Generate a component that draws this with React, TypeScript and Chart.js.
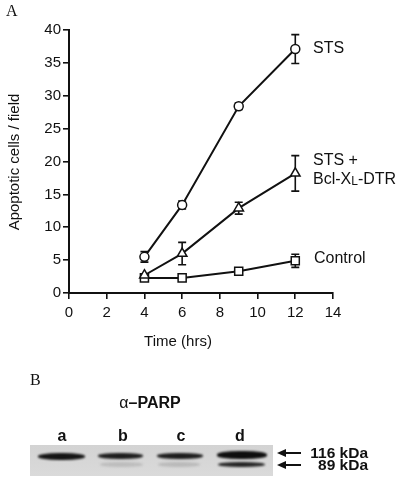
import React, { useEffect, useRef } from "react";
import { Chart, registerables } from "chart.js";

Chart.register(...registerables);

const times = [4, 6, 9, 12];
const stsValues = [5.5, 13.4, 28.4, 37.1];
const stsErrors = [0.8, 0.6, 0.5, 2.2];
const bclValues = [2.7, 6.0, 12.9, 18.2];
const bclErrors = [0.2, 1.7, 0.9, 2.7];
const controlValues = [2.3, 2.3, 3.3, 4.9];
const controlErrors = [0.2, 0.2, 0.3, 1.0];
const xTicks = [0, 2, 4, 6, 8, 10, 12, 14];
const yTicks = [0, 5, 10, 15, 20, 25, 30, 35, 40];
const laneLabels = ["a", "b", "c", "d"];
const markerLabels = ["116 kDa", "89 kDa"];

const FONT = "'Liberation Sans', Arial, Helvetica, sans-serif";

const errorBarPlugin = {
  id: "errorBars",
  beforeDatasetsDraw(chart: any) {
    const ctx = chart.ctx;
    const xs = chart.scales.x;
    const ys = chart.scales.y;
    const errs = [stsErrors, bclErrors, controlErrors];
    ctx.save();
    ctx.strokeStyle = "#111";
    ctx.lineWidth = 1.6;
    chart.data.datasets.forEach((ds: any, i: number) => {
      ds.data.forEach((p: any, j: number) => {
        const e = errs[i][j];
        const x = xs.getPixelForValue(p.x);
        const y1 = ys.getPixelForValue(p.y + e);
        const y2 = ys.getPixelForValue(p.y - e);
        ctx.beginPath();
        ctx.moveTo(x, y1);
        ctx.lineTo(x, y2);
        ctx.moveTo(x - 4, y1);
        ctx.lineTo(x + 4, y1);
        ctx.moveTo(x - 4, y2);
        ctx.lineTo(x + 4, y2);
        ctx.stroke();
      });
    });
    ctx.restore();
  },
  afterDraw(chart: any) {
    const ctx = chart.ctx;
    ctx.save();
    ctx.fillStyle = "#111";
    ctx.textBaseline = "middle";
    ctx.textAlign = "left";
    ctx.font = `16px ${FONT}`;
    ctx.fillText("STS", 313, 49);
    ctx.fillText("STS +", 313, 161);
    let x = 313;
    ctx.fillText("Bcl-X", x, 180);
    x += ctx.measureText("Bcl-X").width;
    ctx.font = `12px ${FONT}`;
    ctx.fillText("L", x, 181.5);
    x += ctx.measureText("L").width;
    ctx.font = `16px ${FONT}`;
    ctx.fillText("-DTR", x, 180);
    ctx.fillText("Control", 314, 259);
    ctx.font = `15px ${FONT}`;
    ctx.textAlign = "center";
    ctx.fillText("Time (hrs)", 178, 342);
    ctx.save();
    ctx.translate(15, 162);
    ctx.rotate(-Math.PI / 2);
    ctx.fillText("Apoptotic cells / field", 0, 0);
    ctx.restore();
    ctx.font = `16px 'Liberation Serif', 'Times New Roman', serif`;
    ctx.textAlign = "left";
    ctx.fillText("A", 6, 12);
    ctx.fillText("B", 30, 381);
    ctx.restore();
  },
};

function toPoints(vals: number[]) {
  return times.map((t, i) => ({ x: t, y: vals[i] }));
}

export default function App() {
  const ref = useRef<HTMLCanvasElement>(null);
  useEffect(() => {
    const mk = (data: number[], style: string, r: number) => ({
      data: toPoints(data),
      borderColor: "#111",
      borderWidth: 2,
      pointStyle: style,
      pointRadius: r,
      pointBackgroundColor: "#fff",
      pointBorderColor: "#111",
      pointBorderWidth: 1.5,
      showLine: true,
      tension: 0,
    });
    const chart = new Chart(ref.current as HTMLCanvasElement, {
      type: "scatter",
      data: {
        datasets: [
          mk(stsValues, "circle", 4.5),
          mk(bclValues, "triangle", 5.5),
          mk(controlValues, "rect", 5.7),
        ] as any,
      },
      options: {
        animation: false,
        responsive: false,
        devicePixelRatio: 1,
        layout: { padding: { left: 0, top: 30, right: 67, bottom: 150 } },
        plugins: { legend: { display: false }, tooltip: { enabled: false } },
        scales: {
          x: {
            type: "linear",
            min: 0,
            max: 14,
            afterFit: (s: any) => {
              s.height = 40;
            },
            afterBuildTicks: (s: any) => {
              s.ticks = xTicks.map((v) => ({ value: v }));
            },
            grid: {
              drawOnChartArea: false,
              drawTicks: true,
              tickLength: 6,
              color: "#111",
              lineWidth: 1.6,
            },
            border: { display: true, color: "#111", width: 2 },
            ticks: {
              color: "#111",
              padding: 5,
              font: { size: 15, family: FONT },
            },
          },
          y: {
            type: "linear",
            min: 0,
            max: 40,
            afterFit: (s: any) => {
              s.width = 69;
            },
            afterBuildTicks: (s: any) => {
              s.ticks = yTicks.map((v) => ({ value: v }));
            },
            grid: {
              drawOnChartArea: false,
              drawTicks: true,
              tickLength: 6,
              color: "#111",
              lineWidth: 1.6,
            },
            border: { display: true, color: "#111", width: 2 },
            ticks: {
              color: "#111",
              padding: 2,
              font: { size: 15, family: FONT },
            },
          },
        },
      },
      plugins: [errorBarPlugin],
    });
    return () => chart.destroy();
  }, []);

  const laneX = [62, 123, 181, 240];
  const band116 = [
    { l: 38, w: 47, h: 7, c: "#151515", cy: 456 },
    { l: 98, w: 45, h: 6, c: "#1e1e1e", cy: 456 },
    { l: 157, w: 46, h: 6, c: "#1e1e1e", cy: 456 },
    { l: 217, w: 50, h: 8, c: "#0e0e0e", cy: 455 },
  ];
  const band89 = [
    { l: 100, w: 43, h: 5, c: "#bdbdbd", cy: 464 },
    { l: 158, w: 42, h: 5, c: "#bababa", cy: 464 },
    { l: 218, w: 47, h: 5, c: "#262626", cy: 464 },
  ];

  return (
    <div
      style={{
        position: "fixed",
        left: 0,
        top: 0,
        width: 400,
        height: 483,
        background: "#fff",
        overflow: "hidden",
      }}
    >
      <canvas ref={ref} width={400} height={483} style={{ width: 400, height: 483, display: "block" }} />
      <div
        style={{
          position: "absolute",
          left: 100,
          top: 395,
          width: 100,
          textAlign: "center",
          font: `16px ${FONT}`,
          lineHeight: "16px",
          color: "#111",
        }}
      >
        α<b>–PARP</b>
      </div>
      {laneLabels.map((t, i) => (
        <div
          key={t}
          style={{
            position: "absolute",
            left: laneX[i] - 20,
            top: 428,
            width: 40,
            textAlign: "center",
            font: `bold 16px ${FONT}`,
            lineHeight: "16px",
            color: "#111",
          }}
        >
          {t}
        </div>
      ))}
      <div
        style={{
          position: "absolute",
          left: 30,
          top: 445,
          width: 243,
          height: 31,
          background: "linear-gradient(#d3d3d3, #dadada)",
        }}
      >
        {[...band116, ...band89].map((b, i) => (
          <div
            key={i}
            style={{
              position: "absolute",
              left: b.l - 30,
              top: b.cy - 445 - b.h / 2,
              width: b.w,
              height: b.h,
              background: b.c,
              borderRadius: "45%",
              filter: "blur(1.2px)",
            }}
          />
        ))}
      </div>
      <svg
        width={40}
        height={30}
        style={{ position: "absolute", left: 270, top: 444 }}
      >
        {[9, 21].map((y) => (
          <g key={y}>
            <line x1={10} y1={y} x2={31} y2={y} stroke="#111" strokeWidth={2} />
            <polygon points={`7,${y} 16,${y - 4} 16,${y + 4}`} fill="#111" />
          </g>
        ))}
      </svg>
      {markerLabels.map((t, i) => (
        <div
          key={t}
          style={{
            position: "absolute",
            left: 290,
            top: i === 0 ? 445 : 457,
            width: 78,
            textAlign: "right",
            font: `bold 15.5px ${FONT}`,
            lineHeight: "16px",
            color: "#111",
          }}
        >
          {t}
        </div>
      ))}
    </div>
  );
}
